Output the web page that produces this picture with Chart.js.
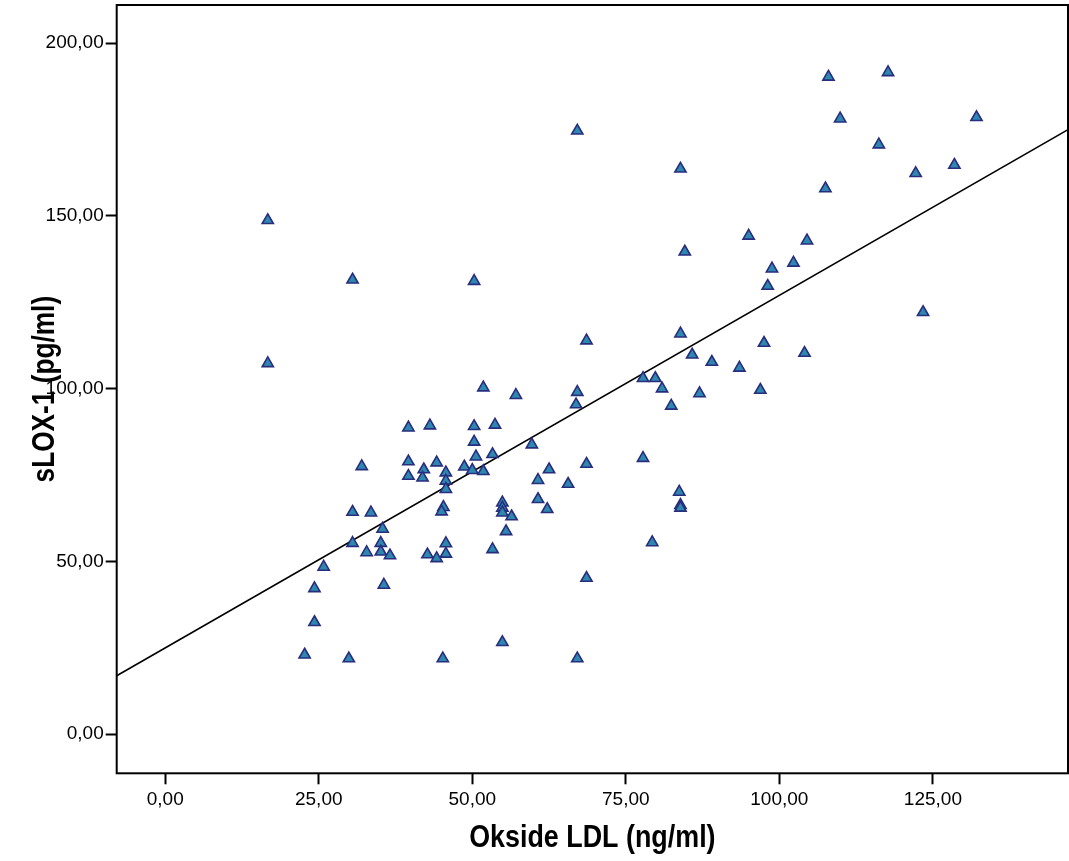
<!DOCTYPE html>
<html>
<head>
<meta charset="utf-8">
<script src="https://cdn.jsdelivr.net/npm/chart.js@4/dist/chart.umd.min.js"></script>
<style>
  html, body { margin: 0; padding: 0; background: #fff; }
  #wrap { width: 1069px; height: 861px; position: relative; }
</style>
</head>
<body>
<div id="wrap"><canvas id="c" width="1069" height="861"></canvas></div>
<script>
// Okside LDL (ng/ml)
const oksideLDL = [
  16.7, 16.7, 30.5, 50.3, 51.8, 57.1, 39.6, 43.1, 50.3, 53.7,
  50.3, 59.7, 32.0, 39.6, 42.1, 44.2, 50.6, 53.3, 48.7, 50.0,
  51.8, 39.6, 41.9, 45.7, 45.7, 45.7, 60.7, 60.7, 54.9, 54.9,
  54.9, 56.4, 55.5, 53.3, 45.3, 45.0, 30.5, 33.5, 35.4, 30.5,
  35.1, 32.8, 35.1, 36.6, 45.7, 45.7, 42.7, 44.2, 25.8, 24.3,
  35.6, 24.3, 22.7, 29.9, 45.2, 54.9, 67.1, 83.9, 84.6, 83.9,
  68.6, 85.8, 89.0, 77.8, 79.8, 80.9, 87.0, 67.1, 93.5, 66.9,
  82.4, 68.6, 77.8, 62.5, 65.6, 62.2, 83.7, 83.9, 83.9, 79.3,
  68.6, 67.1, 108.0, 117.7, 109.9, 132.1, 116.2, 128.5, 122.2, 107.5,
  95.0, 104.5, 102.3, 98.8, 98.1, 123.4, 97.5, 104.1, 96.9
];
// sLOX-1 (pg/ml)
const sLOX1 = [
  148.7, 107.3, 131.5, 131.1, 100.3, 98.1, 88.7, 89.3, 89.1, 89.5,
  84.6, 83.8, 77.5, 78.9, 76.6, 78.6, 80.3, 81.0, 77.4, 76.4,
  76.1, 74.7, 74.2, 75.7, 73.3, 70.9, 73.5, 68.0, 67.0, 65.5,
  64.1, 63.0, 58.7, 53.5, 65.7, 64.4, 64.3, 64.1, 59.4, 55.3,
  55.3, 52.6, 52.8, 51.7, 55.2, 52.2, 52.0, 50.9, 48.4, 42.2,
  43.2, 32.4, 23.0, 21.9, 21.9, 26.6, 174.6, 163.6, 139.6, 115.9,
  113.9, 109.8, 107.7, 103.0, 103.0, 100.0, 98.6, 99.0, 106.0, 95.4,
  95.0, 78.2, 79.9, 76.6, 72.4, 65.1, 70.1, 66.3, 65.5, 55.5,
  45.2, 21.9, 190.2, 191.5, 178.1, 178.5, 170.6, 164.7, 162.3, 157.9,
  144.2, 142.8, 136.4, 134.7, 129.7, 122.1, 113.2, 110.3, 99.6
];
// Fit line: sLOX-1 = intercept + slope * Okside LDL
const fitIntercept = 25.0;
const fitSlope = 1.02;

const xTicks = [0, 25, 50, 75, 100, 125];
const yTicks = [0, 50, 100, 150, 200];
const xRange = [-7.9, 147.0];
const yRange = [-11.3, 211.0];

const xTitle = 'Okside LDL (ng/ml)';
const yTitle = 'sLOX-1 (pg/ml)';

const fmt = v => v.toFixed(2).replace('.', ',');

const points = oksideLDL.map((x, i) => ({ x: x, y: sLOX1[i] }));
const fitPts = xRange.map(x => ({ x: x, y: fitIntercept + fitSlope * x }));

const frame = {
  id: 'frame',
  afterDatasetsDraw(chart) {
    const a = chart.chartArea, ctx = chart.ctx;
    ctx.save();
    ctx.strokeStyle = '#000';
    ctx.lineWidth = 2;
    ctx.strokeRect(a.left, a.top, a.right - a.left, a.bottom - a.top);
    ctx.restore();
  }
};

// Axis titles in a condensed bold face (Arial Narrow look)
const axisTitles = {
  id: 'axisTitles',
  afterDraw(chart) {
    const a = chart.chartArea, ctx = chart.ctx;
    ctx.save();
    ctx.fillStyle = '#000';
    ctx.font = "bold 32px 'Liberation Sans', Arial, sans-serif";
    ctx.textAlign = 'center';
    ctx.textBaseline = 'middle';
    // x title
    ctx.save();
    ctx.translate((a.left + a.right) / 2, 838);
    ctx.scale(0.84, 1);
    ctx.fillText(xTitle, 0, 0);
    ctx.restore();
    // y title
    ctx.save();
    ctx.translate(45, (a.top + a.bottom) / 2);
    ctx.rotate(-Math.PI / 2);
    ctx.scale(0.82, 1);
    ctx.fillText(yTitle, 0, 0);
    ctx.restore();
    ctx.restore();
  }
};

const tickFont = { family: "'Liberation Sans', Arial, sans-serif", size: 19 };

new Chart(document.getElementById('c'), {
  data: {
    datasets: [
      {
        type: 'line',
        data: fitPts,
        borderColor: '#000',
        borderWidth: 1.6,
        pointRadius: 0,
        fill: false,
        order: 2
      },
      {
        type: 'scatter',
        data: points,
        pointStyle: 'triangle',
        pointRadius: 6.5,
        backgroundColor: 'rgb(45,135,175)',
        borderColor: 'rgb(40,45,125)',
        borderWidth: 1.6,
        order: 1
      }
    ]
  },
  options: {
    responsive: false,
    animation: false,
    events: [],
    layout: { autoPadding: false, padding: { top: 5, right: 1, left: 0, bottom: 0 } },
    plugins: { legend: { display: false }, tooltip: { enabled: false } },
    scales: {
      x: {
        type: 'linear',
        min: xRange[0], max: xRange[1],
        afterBuildTicks: s => { s.ticks = xTicks.map(v => ({ value: v })); },
        afterFit: s => { s.height = 87.7; s.paddingLeft = 0; s.paddingRight = 0; },
        grid: { drawOnChartArea: false, drawTicks: true, tickLength: 11, tickWidth: 2, tickColor: '#000', color: '#000' },
        border: { display: false },
        ticks: { color: '#000', font: tickFont, padding: 4, maxRotation: 0, callback: v => fmt(v) },
        title: { display: false, text: xTitle }
      },
      y: {
        type: 'linear',
        min: yRange[0], max: yRange[1],
        afterBuildTicks: s => { s.ticks = yTicks.map(v => ({ value: v })); },
        afterFit: s => { s.width = 116.7; s.paddingTop = 0; s.paddingBottom = 0; },
        grid: { drawOnChartArea: false, drawTicks: true, tickLength: 11, tickWidth: 2, tickColor: '#000', color: '#000' },
        border: { display: false },
        ticks: { color: '#000', font: tickFont, padding: 2, callback: v => fmt(v) },
        title: { display: false, text: yTitle }
      }
    }
  },
  plugins: [frame, axisTitles]
});
</script>
</body>
</html>
